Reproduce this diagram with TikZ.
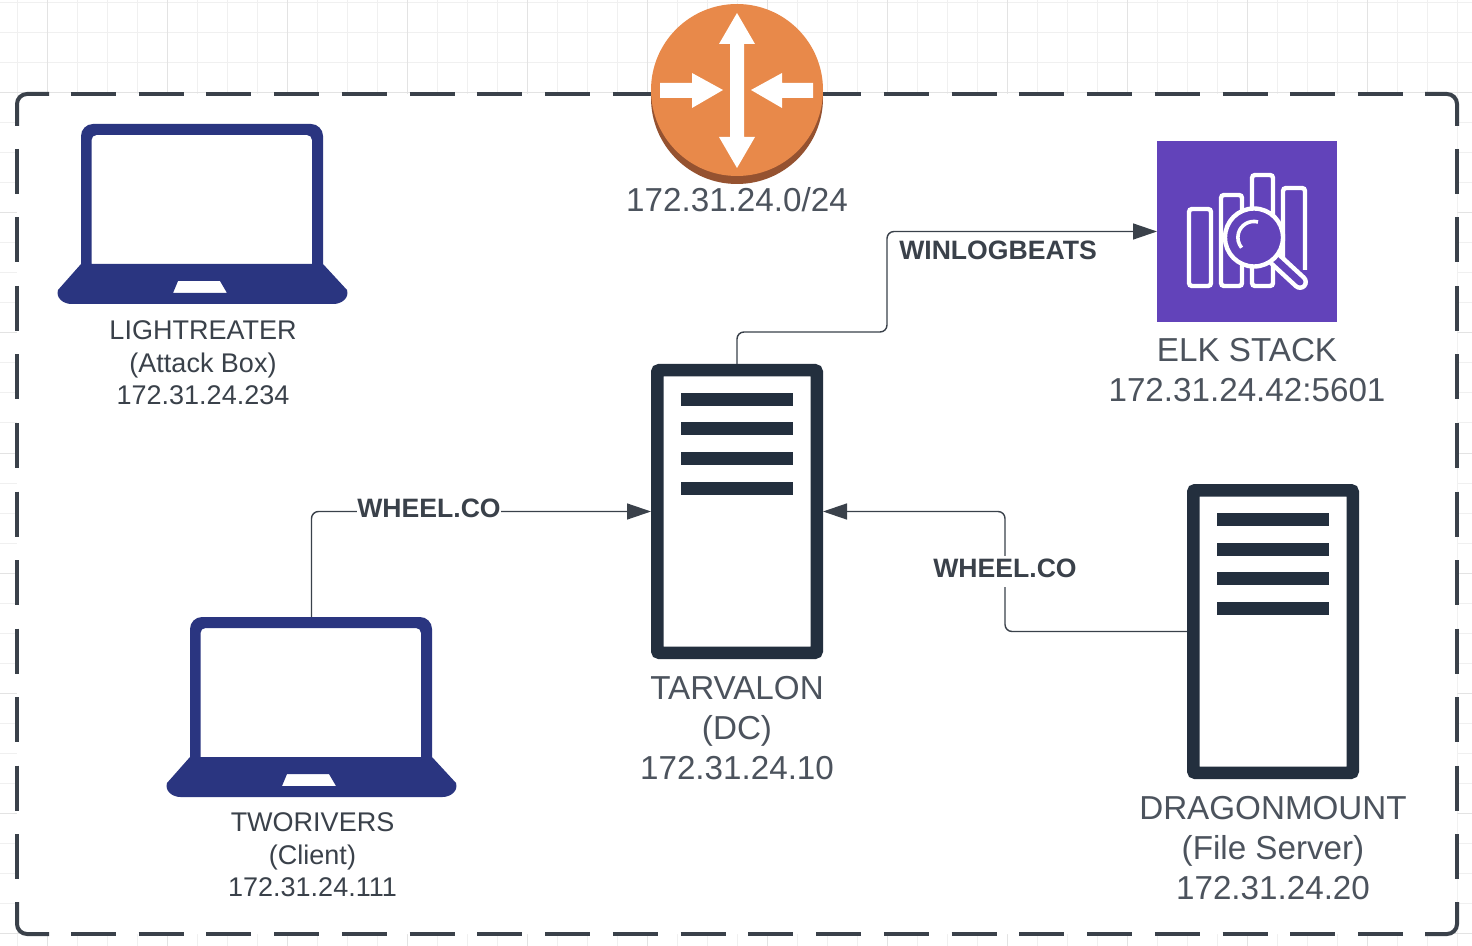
\documentclass[tikz,border=0pt]{standalone}
\usepackage{fontspec}
\setmainfont{Liberation Sans}
\usetikzlibrary{arrows.meta}

\definecolor{framegray}{HTML}{3A414A}
\definecolor{labelgray}{HTML}{4C535D}
\definecolor{servernavy}{HTML}{232F3E}
\definecolor{laptopblue}{HTML}{2A3580}
\definecolor{routerorange}{HTML}{E8894A}
\definecolor{routerbrown}{HTML}{955230}
\definecolor{elkpurple}{HTML}{6243BA}

\begin{document}
\begin{tikzpicture}
[x=0.5pt,y=-0.5pt
,gridminor/.style={draw=black!6,line width=0.5pt}
,gridmajor/.style={draw=black!11,line width=0.5pt}
,frameline/.style={draw=framegray,line width=2pt,rounded corners=5pt}
,frameside/.style={draw=framegray,line width=2pt}
,serverbox/.style={draw=servernavy,fill=white,line width=6.25pt,rounded corners=1pt,minimum width=79.75pt,minimum height=141.25pt,inner sep=0pt}
,laptopbox/.style={minimum width=145pt,minimum height=90pt,inner sep=0pt,outer sep=0pt}
,routerbox/.style={circle,fill=routerorange,minimum size=86pt,inner sep=0pt,outer sep=0pt}
,elkbox/.style={fill=elkpurple,minimum width=90pt,minimum height=90.5pt,inner sep=0pt,outer sep=0pt}
,biglabel/.style={text=labelgray,align=center,font=\fontsize{16.6}{20}\selectfont}
,smalllabel/.style={text=framegray,align=center,font=\fontsize{13.5}{16.25}\selectfont}
,linklabel/.style={text=framegray,font=\fontsize{13.3}{16}\selectfont\bfseries,inner sep=0pt}
,link/.style={draw=framegray,line width=0.7pt,rounded corners=3.5pt,-{Triangle[length=12pt,width=8pt]}}
,elkline/.style={draw=white,line width=2.2pt,rounded corners=1.5pt}
,laptop/.pic={
  \fill[laptopblue,even odd rule]
    (-121.5,50) [rounded corners=6pt] -- (-121.5,-90) -- (120.5,-90) [sharp corners] -- (120.5,50)
    -- (144.5,76) .. controls (147,84) and (139,90) .. (131,90)
    -- (-131,90) .. controls (-139,90) and (-147,84) .. (-144.5,76) -- cycle
    (-111,50) [rounded corners=2.5pt] -- (-111,-79) -- (109.5,-79) [sharp corners] -- (109.5,50) -- cycle
    (-24.5,67) -- (17.5,67) -- (24.5,79) -- (-29.5,79) -- cycle;
}
]

% page and grid
\useasboundingbox (0,0) rectangle (1472,946);
\foreach \gx in {17,47,...,1457} \draw[gridminor] (\gx,0) -- (\gx,946);
\foreach \gy in {3,33,...,933} \draw[gridminor] (0,\gy) -- (1472,\gy);
\foreach \gx in {47,167,...,1447} \draw[gridmajor] (\gx,0) -- (\gx,946);
\foreach \gy in {93,213,...,933} \draw[gridmajor] (0,\gy) -- (1472,\gy);

% dashed frame, each side on its own
\fill[white,rounded corners=5pt] (17,94) rectangle (1457,934);
\draw[frameline] (49,94) -- (17,94) -- (17,126);
\draw[frameline] (1425,94) -- (1457,94) -- (1457,126);
\draw[frameline] (17,902) -- (17,934) -- (49,934);
\draw[frameline] (1425,934) -- (1457,934) -- (1457,902);
\foreach \fy in {94,934}
  \draw[frameside,dash pattern=on 22.5pt off 11.37pt] (71,\fy) -- (1403,\fy);
\foreach \fx in {17,1457}
  \draw[frameside,dash pattern=on 22.5pt off 11.75pt] (\fx,149) -- (\fx,879);

% router
\fill[routerbrown] (737,98) circle [radius=43pt];
\node[routerbox] (router) at (737,90) {};
\fill[white] (737,13) -- (755,44) -- (744,44) -- (744,137) -- (755,137) -- (737,168) -- (719,137) -- (730,137) -- (730,44) -- (719,44) -- cycle;
\fill[white] (660,83) -- (692,83) -- (692,73) -- (723,90) -- (692,108) -- (692,98) -- (660,98) -- cycle;
\fill[white] (813,83) -- (782,83) -- (782,73) -- (751,90) -- (782,108) -- (782,98) -- (813,98) -- cycle;
\node[biglabel] (routerlabel) at (737,199.5) {172.31.24.0/24};

% laptops
\node[laptopbox] (lightreater) at (202.5,214) {};
\node[laptopbox] (tworivers)   at (311.5,707) {};
\pic at (lightreater.center) {laptop};
\pic at (tworivers.center) {laptop};
\node[smalllabel] (lightreaterlabel) at (203,363) {LIGHTREATER\\(Attack Box)\\172.31.24.234};
\node[smalllabel] (tworiverslabel)   at (312.5,855) {TWORIVERS\\(Client)\\172.31.24.111};

% servers
\node[serverbox] (tarvalon)    at (737,511.5)  {};
\node[serverbox] (dragonmount) at (1273,631.5) {};
\foreach \srv in {tarvalon,dragonmount}
  \foreach \dy in {29,58.5,88,117.5}
    \fill[servernavy] ([shift={(-56,\dy)}]\srv.north) rectangle ([shift={(56,\dy+13)}]\srv.north);
\node[biglabel] (tarvalonlabel)    at (737,728)  {TARVALON\\(DC)\\172.31.24.10};
\node[biglabel] (dragonmountlabel) at (1273,848) {DRAGONMOUNT\\(File Server)\\172.31.24.20};

% elk
\node[elkbox] (elk) at (1247,231.5) {};
\draw[elkline] (1189,286) rectangle (1211,209);
\draw[elkline] (1221,286) rectangle (1242,195);
\draw[elkline] (1252,286) rectangle (1273,175);
\draw[elkline] (1283,270) -- (1283,188) -- (1305,188) -- (1305,270);
\draw[white,line width=8pt,line cap=round] (1274,258) -- (1300,282);
\draw[elkpurple,line width=3.5pt,line cap=round] (1274,258) -- (1300,282);
\draw[elkline,fill=elkpurple] (1254,237.5) circle [radius=14.5pt];
\draw[white,line width=1.8pt] (1258,222) arc [start angle=75,end angle=220,radius=8pt];
\node[biglabel] (elklabel) at (1247,370) {ELK STACK\\172.31.24.42:5601};

% links
\draw[link] (tarvalon.north) -- ++(0,-32) -- ++(150,0) |- (elk.west);
\draw[link] (tworivers.north) |- (tarvalon.west);
\draw[link] (dragonmount.west) -- ++(-182,0) |- (tarvalon.east);
\node[linklabel] (winlogbeats) at (998,250) {WINLOGBEATS};
\node[linklabel,fill=white] (wheelleft)  at (429,508) {WHEEL.CO};
\node[linklabel,fill=white,text height=11pt,text depth=4.5pt] (wheelright) at (1005,571) {WHEEL.CO};

\end{tikzpicture}
\end{document}
